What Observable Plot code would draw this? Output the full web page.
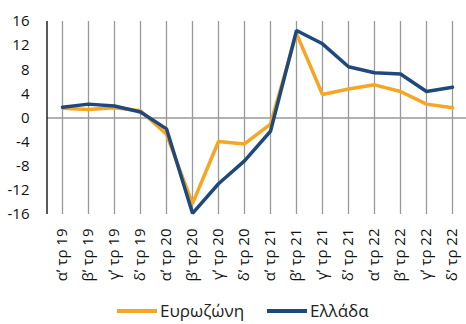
<!DOCTYPE html>
<html><head><meta charset="utf-8">
<script src="https://cdn.jsdelivr.net/npm/d3@7"></script>
<script src="https://cdn.jsdelivr.net/npm/@observablehq/plot@0.6"></script>
<style>
body{margin:0;background:#fff;font-family:"Open Sans","Noto Sans",sans-serif;overflow:hidden;}
#legend{position:relative;height:24px;font-size:17px;line-height:22px;color:#222;}
.item{position:absolute;top:0px;display:flex;align-items:center;}
.sw{display:inline-block;width:40px;height:3.5px;margin-right:3px;}
</style></head>
<body><div id="chart"></div>
<div id="legend">
<div class="item" style="left:117px"><span class="sw" style="background:#F5A623"></span>Ευρωζώνη</div>
<div class="item" style="left:267px"><span class="sw" style="background:#1F497D"></span>Ελλάδα</div>
</div>
<script>
const quarters = ["αʹ τρ 19","βʹ τρ 19","γʹ τρ 19","δʹ τρ 19","αʹ τρ 20","βʹ τρ 20","γʹ τρ 20","δʹ τρ 20","αʹ τρ 21","βʹ τρ 21","γʹ τρ 21","δʹ τρ 21","αʹ τρ 22","βʹ τρ 22","γʹ τρ 22","δʹ τρ 22"];
const eurozone = [1.6, 1.4, 1.7, 1.2, -2.7, -14.2, -3.9, -4.3, -1.0, 14.0, 3.9, 4.8, 5.5, 4.4, 2.3, 1.7];
const greece   = [1.8, 2.3, 2.0, 1.0, -1.8, -15.8, -10.9, -7.1, -2.2, 14.5, 12.3, 8.5, 7.5, 7.3, 4.4, 5.1];
const yTicks = [-16,-12,-8,-4,0,4,8,12,16];
const seriesNames = ["Ευρωζώνη","Ελλάδα"];
const colors = ["#F5A623","#1F497D"];

const data = [];
quarters.forEach((q,i)=>{
  data.push({q, v: eurozone[i], s: seriesNames[0]});
  data.push({q, v: greece[i], s: seriesNames[1]});
});

const chart = Plot.plot({
  width: 466, height: 300,
  marginLeft: 47, marginRight: 0, marginTop: 21, marginBottom: 86,
  style: {fontFamily: '"Open Sans","Noto Sans",sans-serif', fontSize: "15px", color: "#111", background: "#fff"},
  x: {type: "point", domain: quarters, padding: 0.5, label: null},
  y: {domain: [-16,16], label: null},
  color: {domain: seriesNames, range: colors},
  marks: [
    Plot.ruleY([0], {stroke: "#999", strokeWidth: 1.3}),
    Plot.tickX(quarters, {x: d=>d, y1: 0, y2: -0.8, stroke: "#999", strokeWidth: 1.3}),
    Plot.axisY({ticks: yTicks, tickSize: 0, tickPadding: 18, fontSize: 15, tickFormat: d=>d}),
    Plot.axisX({tickSize: 0, tickRotate: -90, fontSize: 15, textAnchor: "end", tickPadding: 14}),
    Plot.lineY(data, {x: "q", y: "v", stroke: "s", strokeWidth: 3.5, strokeLinejoin: "miter"}),
  ]
});
document.getElementById("chart").appendChild(chart);
const svg = d3.select(chart);
svg.append("line").attr("x1",47).attr("x2",47).attr("y1",21).attr("y2",214).attr("stroke","#000").attr("stroke-width",1.3);
</script></body></html>
